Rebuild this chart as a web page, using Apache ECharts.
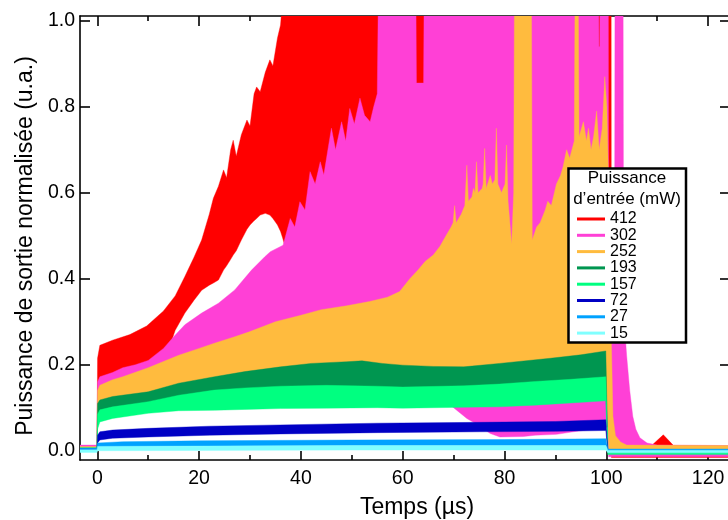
<!DOCTYPE html>
<html><head><meta charset="utf-8">
<script src="https://cdn.jsdelivr.net/npm/echarts@6/dist/echarts.min.js"></script>
<style>html,body{margin:0;padding:0;background:#fff}#c{width:728px;height:520px}</style>
</head><body><div id="c"></div>
<script>
// Input powers (mW) and colours
const powers = ['412', '302', '252', '193', '157', '72', '27', '15'];
const colors = ['#ff0000', '#ff40d6', '#ffbb3e', '#009650', '#00ff80', '#0000c4', '#00a2ff', '#80ffff'];
const xTicks = [0, 20, 40, 60, 80, 100, 120];
const xMinorTicks = [10, 30, 50, 70, 90, 110];
const yTicks = [0, 0.2, 0.4, 0.6, 0.8, 1.0];

// Envelopes: [time (µs), lower envelope, upper envelope]
const p412 = [
  [-3.4, 0.002, 0.012], [-0.05, 0.002, 0.012], [0.05, 0.12, 0.215], [0.5, 0.13, 0.245], [3, 0.14, 0.257],
  [6.4, 0.15, 0.27], [9.7, 0.17, 0.29], [13, 0.20, 0.325], [15.3, 0.28, 0.36], [17.2, 0.32, 0.405],
  [19, 0.35, 0.45], [20.5, 0.373, 0.49], [22, 0.385, 0.55], [22.8, 0.39, 0.587], [23.8, 0.397, 0.615],
  [24.8, 0.42, 0.653], [25.4, 0.43, 0.635], [26.2, 0.445, 0.70], [26.7, 0.455, 0.722], [27.3, 0.465, 0.685],
  [28.3, 0.49, 0.735], [29.4, 0.515, 0.769], [30.0, 0.525, 0.755], [30.8, 0.535, 0.83], [31.3, 0.54, 0.846],
  [32.0, 0.548, 0.835], [33.0, 0.552, 0.88], [33.9, 0.548, 0.909], [34.5, 0.54, 0.895], [35.4, 0.525, 0.96],
  [36.0, 0.51, 0.99], [36.4, 0.495, 1.05], [37.5, 0.45, 1.05], [40, 0.30, 1.05], [100.95, 0.30, 1.05],
  [101.0, -0.016, 0.012], [106.0, -0.016, 0.012], [106.6, -0.016, 0.016], [107.5, -0.016, 0.014],
  [108.9, -0.016, 0.012], [111.2, -0.016, 0.037], [113.2, -0.016, 0.012], [124.5, -0.016, 0.01]
];
const p302 = [
  [-3.4, 0.004, 0.013], [-0.05, 0.004, 0.013], [0.05, 0.08, 0.16], [0.5, 0.09, 0.172], [3, 0.10, 0.182],
  [5, 0.10, 0.193], [7.5, 0.105, 0.20], [10, 0.11, 0.21], [13, 0.115, 0.238], [15, 0.12, 0.265],
  [17.2, 0.12, 0.293], [20.5, 0.125, 0.32], [23.8, 0.13, 0.343], [27, 0.13, 0.374], [30.3, 0.13, 0.42],
  [32.9, 0.13, 0.451], [34, 0.13, 0.463], [36.5, 0.13, 0.478], [37.9, 0.13, 0.54], [38.8, 0.13, 0.52],
  [39.8, 0.13, 0.579], [40.8, 0.13, 0.56], [41.8, 0.13, 0.649], [42.8, 0.13, 0.62], [43.8, 0.13, 0.672],
  [44.5, 0.13, 0.641], [45.3, 0.13, 0.70], [46.0, 0.13, 0.75], [46.8, 0.13, 0.70], [48.0, 0.13, 0.765],
  [48.8, 0.13, 0.72], [49.6, 0.13, 0.796], [50.5, 0.13, 0.76], [51.6, 0.13, 0.82], [52.5, 0.13, 0.78],
  [53.6, 0.13, 0.765], [54.3, 0.13, 0.80], [55.0, 0.13, 0.83], [55.2, 0.13, 1.05], [62.6, 0.13, 1.05],
  [62.7, 0.13, 0.855], [64.1, 0.13, 0.855], [64.2, 0.13, 1.05], [68, 0.12, 1.05], [70, 0.10, 1.05],
  [72.6, 0.075, 1.05], [74.5, 0.062, 1.05], [77.2, 0.040, 1.05], [79.1, 0.032, 1.05], [83.7, 0.033, 1.05],
  [86, 0.036, 1.05], [90.2, 0.038, 1.05], [93.5, 0.044, 1.05], [98.5, 0.052, 1.05], [98.55, 0.052, 0.94],
  [98.7, 0.052, 0.94], [98.75, 0.053, 1.05], [100.4, 0.055, 1.05], [100.45, -0.014, 0.25], [101.6, -0.014, 0.25],
  [101.7, -0.014, 1.05], [103.3, -0.014, 1.05], [103.4, -0.014, 0.32], [104, -0.014, 0.22], [104.6, -0.014, 0.14],
  [105.2, -0.014, 0.08], [105.8, -0.014, 0.05], [106.6, -0.014, 0.03], [108, -0.014, 0.018], [110, -0.014, 0.013],
  [124.5, -0.014, 0.012]
];
const p252 = [
  [-3.4, 0.003, 0.010], [-0.05, 0.003, 0.010], [0.05, 0.08, 0.14], [0.5, 0.09, 0.152], [3, 0.095, 0.165],
  [5, 0.10, 0.172], [10, 0.105, 0.193], [16, 0.11, 0.222], [20, 0.115, 0.238], [23, 0.115, 0.25],
  [27, 0.12, 0.265], [30, 0.12, 0.277], [35, 0.12, 0.30], [40, 0.12, 0.315], [44, 0.12, 0.328],
  [49, 0.12, 0.337], [53.5, 0.12, 0.347], [57, 0.12, 0.357], [59.4, 0.12, 0.37], [61.4, 0.12, 0.40],
  [63, 0.12, 0.42], [64.4, 0.12, 0.44], [66, 0.12, 0.455], [67.3, 0.12, 0.475], [68.5, 0.12, 0.50],
  [69.5, 0.12, 0.52], [69.9, 0.12, 0.53], [70.2, 0.12, 0.57], [70.5, 0.12, 0.53], [71.5, 0.12, 0.55],
  [72.2, 0.12, 0.57], [72.6, 0.12, 0.664], [72.9, 0.12, 0.58], [73.6, 0.12, 0.59], [73.9, 0.12, 0.61],
  [74.2, 0.12, 0.60], [74.5, 0.12, 0.672], [74.8, 0.12, 0.60], [75.6, 0.12, 0.61], [75.8, 0.12, 0.62],
  [76.1, 0.12, 0.703], [76.4, 0.12, 0.61], [77.2, 0.12, 0.64], [77.6, 0.12, 0.62], [78.1, 0.12, 0.63],
  [78.4, 0.12, 0.75], [78.7, 0.12, 0.62], [79.4, 0.12, 0.60], [80.1, 0.12, 0.62], [80.4, 0.12, 0.711],
  [80.7, 0.12, 0.58], [81.4, 0.12, 0.48], [81.8, 0.12, 0.60], [81.95, 0.12, 1.05], [85.3, 0.12, 1.05],
  [85.45, 0.12, 0.49], [86.3, 0.12, 0.52], [87.0, 0.12, 0.53], [88.0, 0.12, 0.56], [88.5, 0.12, 0.58],
  [89.2, 0.12, 0.57], [90.2, 0.12, 0.62], [91.0, 0.12, 0.64], [91.5, 0.12, 0.66], [92.2, 0.13, 0.70],
  [92.8, 0.13, 0.68], [93.7, 0.13, 0.72], [93.85, 0.13, 1.05], [94.5, 0.13, 1.05], [94.65, 0.13, 0.73],
  [95.5, 0.13, 0.765], [96.1, 0.13, 0.72], [96.5, 0.13, 0.75], [97.0, 0.13, 0.70], [97.5, 0.13, 0.73],
  [98.1, 0.13, 0.79], [98.6, 0.13, 0.70], [99.2, 0.13, 0.75], [99.7, 0.13, 0.87], [100.1, 0.13, 0.80],
  [100.5, 0.004, 0.6], [101.0, 0.004, 0.25], [101.3, 0.004, 0.08], [101.8, 0.004, 0.035], [102.8, 0.004, 0.02],
  [104, 0.004, 0.013], [124.5, 0.004, 0.012]
];
const p193 = [
  [-3.4, 0.0, 0.006], [-0.05, 0.0, 0.006], [0.05, 0.06, 0.11], [0.5, 0.075, 0.118], [3, 0.085, 0.126],
  [10, 0.10, 0.137], [16, 0.105, 0.157], [23, 0.11, 0.172], [29, 0.11, 0.184], [36, 0.11, 0.195],
  [42, 0.115, 0.203], [49, 0.115, 0.207], [52, 0.115, 0.209], [56, 0.115, 0.203], [60, 0.115, 0.199],
  [66, 0.115, 0.196], [72, 0.115, 0.195], [79, 0.12, 0.203], [89, 0.125, 0.215], [95, 0.125, 0.223],
  [99.9, 0.13, 0.232], [100.3, -0.004, 0.002], [124.5, -0.004, 0.002]
];
const p157 = [
  [-3.4, 0.002, 0.007], [-0.05, 0.002, 0.007], [0.05, 0.05, 0.085], [0.5, 0.067, 0.095], [3, 0.075, 0.102],
  [10, 0.087, 0.114], [16, 0.093, 0.129], [23, 0.094, 0.141], [29, 0.096, 0.146], [36, 0.098, 0.150],
  [45, 0.099, 0.152], [55, 0.100, 0.150], [60, 0.099, 0.148], [72, 0.101, 0.151], [79, 0.102, 0.155],
  [86, 0.106, 0.161], [93, 0.111, 0.166], [99.9, 0.116, 0.172], [100.3, -0.009, -0.004], [124.5, -0.009, -0.004]
];
const p72 = [
  [-3.4, 0.0, 0.005], [-0.05, 0.0, 0.005], [0.05, 0.018, 0.036], [0.5, 0.025, 0.044], [3, 0.029, 0.048],
  [10, 0.032, 0.052], [22, 0.036, 0.057], [36, 0.039, 0.060], [55, 0.042, 0.064], [75, 0.044, 0.066],
  [90, 0.045, 0.068], [99.9, 0.047, 0.072], [100.3, -0.001, 0.002], [124.5, -0.001, 0.002]
];
const p27 = [
  [-3.4, 0.002, 0.006], [-0.05, 0.002, 0.006], [0.05, 0.009, 0.018], [5, 0.010, 0.021], [20, 0.011, 0.023],
  [50, 0.012, 0.025], [80, 0.012, 0.026], [99.9, 0.012, 0.028], [100.3, 0.0, 0.004], [124.5, 0.0, 0.004]
];
const p15 = [
  [-3.4, -0.004, 0.002], [-0.05, -0.004, 0.002], [0.05, 0.0, 0.010], [50, 0.0015, 0.012],
  [99.9, 0.0015, 0.012], [100.3, -0.005, 0.001], [124.5, -0.005, 0.001]
];
const envelopes = [p412, p302, p252, p193, p157, p72, p27, p15];

const FONT = "'Liberation Sans', Arial, sans-serif";
const chart = echarts.init(document.getElementById('c'), null, {renderer: 'canvas'});

// Each power level is a filled band between its lower and upper envelopes,
// drawn as one polygon whose vertices go through the chart's own scales (api.coord).
const series = powers.map((p, i) => {
  const env = envelopes[i];
  const c = colors[i];
  return {
    type: 'custom', name: p, color: c, itemStyle: {color: c},
    silent: true, animation: false,
    data: env.map(d => [d[0], d[2], d[1]]),
    encode: {x: 0, y: 1},
    renderItem: (params, api) => {
      if (params.dataIndex !== 0) return null;
      const top = [], bottom = [];
      for (let k = 0; k < env.length; k++) {
        top.push(api.coord([env[k][0], env[k][2]]));
        bottom.push(api.coord([env[k][0], env[k][1]]));
      }
      const pts = top.concat(bottom.reverse());
      const cs = params.coordSys;
      return {
        type: 'polygon',
        shape: {points: pts},
        style: {fill: c, stroke: c, lineWidth: 0.4},
        clipPath: {type: 'rect', shape: {x: cs.x, y: cs.y, width: cs.width, height: cs.height}}
      };
    }
  };
});

const axLine = {show: true, onZero: false, lineStyle: {color: '#000', width: 1.6}};
const noLine = {show: false, onZero: false};
const tickStyle = {color: '#000', width: 1.6};
const xMin = -3.4, xMax = 124.3, yMin = -0.0216, yMax = 1.011;

chart.setOption({
  animation: false,
  backgroundColor: '#fff',
  grid: {left: 80, right: -2, top: 16, bottom: 60, containLabel: false, outerBoundsMode: 'none'},
  xAxis: [
    {type: 'value', position: 'bottom', min: xMin, max: xMax, axisLine: axLine,
     axisTick: {inside: true, length: 9, customValues: xTicks, lineStyle: tickStyle},
     axisLabel: {customValues: xTicks, color: '#000', fontSize: 19.5, fontFamily: FONT, margin: 9},
     splitLine: {show: false},
     name: 'Temps (µs)', nameLocation: 'middle', nameGap: 36,
     nameTextStyle: {fontSize: 23, color: '#000', fontFamily: FONT, padding: [0, 0, 0, 24]}},
    {type: 'value', position: 'bottom', min: xMin, max: xMax, axisLine: noLine,
     axisTick: {inside: true, length: 5, customValues: xMinorTicks, lineStyle: tickStyle},
     axisLabel: {show: false}, splitLine: {show: false}},
    {type: 'value', position: 'top', min: xMin, max: xMax, axisLine: axLine,
     axisTick: {inside: true, length: 10, customValues: xTicks, lineStyle: tickStyle},
     axisLabel: {show: false}, splitLine: {show: false}},
    {type: 'value', position: 'top', min: xMin, max: xMax, axisLine: noLine,
     axisTick: {inside: true, length: 5, customValues: xMinorTicks, lineStyle: tickStyle},
     axisLabel: {show: false}, splitLine: {show: false}}
  ],
  yAxis: [
    {type: 'value', position: 'left', min: yMin, max: yMax, axisLine: axLine,
     axisTick: {inside: true, length: 10, customValues: yTicks, lineStyle: tickStyle},
     axisLabel: {customValues: yTicks, color: '#000', fontSize: 19.5, fontFamily: FONT, margin: 5,
                 formatter: v => v.toFixed(1)},
     splitLine: {show: false},
     name: 'Puissance de sortie normalisée (u.a.)', nameLocation: 'middle', nameGap: 41,
     nameTextStyle: {fontSize: 23, color: '#000', fontFamily: FONT, padding: [0, 16, 0, 0]}},
    {type: 'value', position: 'right', min: yMin, max: yMax, axisLine: axLine,
     axisTick: {inside: true, length: 10, customValues: yTicks, lineStyle: tickStyle},
     axisLabel: {show: false}, splitLine: {show: false}}
  ],
  legend: {
    data: powers, orient: 'vertical', left: 572, top: 206, icon: 'rect',
    itemWidth: 28, itemHeight: 3, itemGap: 0.3, selectedMode: false, z: 110,
    textStyle: {fontSize: 16, lineHeight: 16, color: '#000', fontFamily: FONT}
  },
  graphic: [
    {type: 'rect', z: 100, shape: {x: 568.5, y: 168.5, width: 117.5, height: 174},
     style: {fill: '#fff', stroke: '#000', lineWidth: 2.5}},
    {type: 'text', z: 120, x: 627, y: 178, style: {text: 'Puissance', font: "17px " + FONT, fill: '#000',
     textAlign: 'center', textVerticalAlign: 'middle'}},
    {type: 'text', z: 120, x: 627, y: 199, style: {text: 'd’entrée (mW)', font: "17px " + FONT, fill: '#000',
     textAlign: 'center', textVerticalAlign: 'middle'}}
  ],
  series: series
});
</script>
</body></html>
